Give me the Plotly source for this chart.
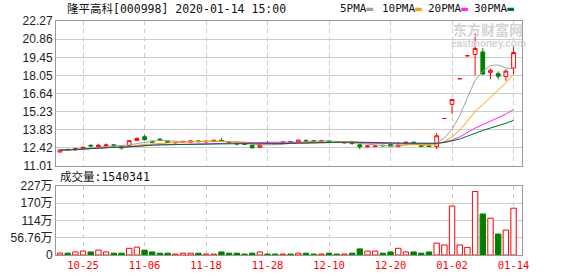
import plotly.graph_objects as go
from plotly.subplots import make_subplots
import pandas as pd

# ---------------- data ----------------
dates = [
    "2019-10-22", "2019-10-23", "2019-10-24", "2019-10-25", "2019-10-28", "2019-10-29", "2019-10-30", "2019-10-31",
    "2019-11-01", "2019-11-04", "2019-11-05", "2019-11-06", "2019-11-07", "2019-11-08", "2019-11-11", "2019-11-12",
    "2019-11-13", "2019-11-14", "2019-11-15", "2019-11-18", "2019-11-19", "2019-11-20", "2019-11-21", "2019-11-22",
    "2019-11-25", "2019-11-26", "2019-11-27", "2019-11-28", "2019-11-29", "2019-12-02", "2019-12-03", "2019-12-04",
    "2019-12-05", "2019-12-06", "2019-12-09", "2019-12-10", "2019-12-11", "2019-12-12", "2019-12-13", "2019-12-16",
    "2019-12-17", "2019-12-18", "2019-12-19", "2019-12-20", "2019-12-23", "2019-12-24", "2019-12-25", "2019-12-26",
    "2019-12-27", "2019-12-30", "2019-12-31", "2020-01-02", "2020-01-03", "2020-01-06", "2020-01-07", "2020-01-08",
    "2020-01-09", "2020-01-10", "2020-01-13", "2020-01-14",
]
open_ = [12.10, 12.30, 12.26, 12.36, 12.62, 12.52, 12.58, 12.66, 12.56, 12.60,
         12.98, 13.28, 12.94, 13.10, 12.92, 12.80, 12.86, 12.86, 12.96, 12.88,
         12.92, 13.00, 12.90, 12.78, 12.74, 12.62, 12.46, 12.82, 12.78, 12.76,
         12.90, 12.86, 13.00, 12.98, 12.94, 12.96, 12.88, 12.80, 12.84, 12.66,
         12.50, 12.52, 12.62, 12.70, 12.52, 12.80, 12.86, 12.62, 12.60, 12.52,
         14.70, 15.80, 17.79, 19.57, 19.67, 19.87, 18.28, 18.18, 17.95, 18.62]
high = [12.28, 12.36, 12.42, 12.52, 12.68, 12.74, 12.76, 12.70, 12.60, 13.02,
        13.24, 13.42, 12.98, 13.16, 12.94, 12.86, 12.96, 13.02, 13.04, 13.02,
        13.05, 13.18, 12.92, 12.82, 12.78, 12.66, 12.76, 12.98, 12.80, 12.90,
        12.95, 13.06, 13.06, 13.02, 13.04, 12.98, 12.92, 12.90, 12.86, 12.68,
        12.60, 12.62, 12.66, 12.74, 12.88, 12.88, 12.88, 12.64, 12.62, 13.57,
        14.70, 16.17, 17.79, 19.57, 21.31, 20.18, 18.57, 18.36, 18.52, 20.34]
low = [12.05, 12.20, 12.22, 12.32, 12.50, 12.48, 12.54, 12.50, 12.30, 12.55,
       12.95, 13.00, 12.80, 12.95, 12.80, 12.76, 12.84, 12.84, 12.86, 12.85,
       12.90, 12.88, 12.78, 12.62, 12.66, 12.38, 12.42, 12.76, 12.68, 12.74,
       12.80, 12.84, 12.85, 12.86, 12.90, 12.84, 12.80, 12.78, 12.70, 12.32,
       12.45, 12.48, 12.52, 12.50, 12.48, 12.76, 12.80, 12.50, 12.50, 12.32,
       14.70, 15.05, 17.79, 19.57, 18.05, 18.10, 17.73, 17.73, 17.62, 18.10]
close = [12.25, 12.24, 12.36, 12.46, 12.56, 12.62, 12.64, 12.58, 12.40, 12.98,
         13.15, 13.05, 12.86, 13.00, 12.84, 12.84, 12.92, 12.95, 12.90, 12.92,
         13.00, 12.96, 12.82, 12.72, 12.70, 12.42, 12.62, 12.80, 12.72, 12.88,
         12.84, 13.02, 12.96, 12.94, 12.98, 12.88, 12.84, 12.84, 12.74, 12.50,
         12.56, 12.56, 12.58, 12.55, 12.62, 12.85, 12.82, 12.54, 12.52, 13.36,
         14.70, 16.17, 17.79, 19.57, 20.14, 18.15, 18.44, 17.98, 18.38, 19.82]
volume = [65000, 60000, 100000, 130000, 100000, 160000, 100000, 60000, 60000, 220000,
          260000, 160000, 100000, 60000, 60000, 30000, 60000, 60000, 60000, 30000,
          30000, 100000, 60000, 60000, 30000, 60000, 100000, 30000, 30000, 30000,
          30000, 60000, 60000, 30000, 30000, 60000, 30000, 30000, 60000, 200000,
          130000, 130000, 60000, 100000, 220000, 100000, 100000, 60000, 100000, 390000,
          330000, 1610000, 330000, 250000, 2090000, 1350000, 1210000, 690000, 820000, 1540341]

tick_dates = ["2019-10-25", "2019-11-06", "2019-11-18", "2019-11-28",
              "2019-12-10", "2019-12-20", "2020-01-02", "2020-01-14"]
tick_labels = ["10-25", "11-06", "11-18", "11-28", "12-10", "12-20", "01-02", "01-14"]
price_ticks = [11.01, 12.42, 13.83, 15.23, 16.64, 18.05, 19.45, 20.86, 22.27]
vol_ticks = [0, 567600, 1135200, 1702800, 2270400]
vol_tick_labels = ["0", "56.76万", "114万", "170万", "227万"]
ma_periods = [5, 10, 20, 30]
ma_names = ["5PMA", "10PMA", "20PMA", "30PMA"]
ma_colors = ["#a0a0a0", "#f5a300", "#ff22ff", "#006b32"]

title_text = "隆平高科[000998] 2020-01-14 15:00"
vol_title = "成交量:1540341"

RED = "#ff0000"
GREEN = "#008000"

# ---------------- layout helpers ----------------
W, H = 578, 276
ML, MR, MT, MB = 56, 56, 21, 21
PW, PH = W - ML - MR, H - MT - MB


def px(x):
    return (x - ML) / PW


def py(y):
    return (H - MB - y) / PH


df = pd.DataFrame({"date": dates, "open": open_, "high": high, "low": low,
                   "close": close, "volume": volume})
prev_close = df["close"].shift(1)
up = (df["close"] > df["open"]) | ((df["close"] == df["open"]) & (df["close"] >= prev_close.fillna(df["close"])))

fig = make_subplots(rows=2, cols=1, shared_xaxes=True)

fig.add_trace(go.Candlestick(
    x=df["date"], open=df["open"], high=df["high"], low=df["low"], close=df["close"],
    increasing=dict(line=dict(color=RED, width=1), fillcolor="#ffffff"),
    decreasing=dict(line=dict(color=GREEN, width=1), fillcolor=GREEN),
    whiskerwidth=0, showlegend=False, hoverinfo="skip",
), row=1, col=1)

for p, name, color in zip(ma_periods, ma_names, ma_colors):
    ma = df["close"].rolling(p, min_periods=1).mean()
    fig.add_trace(go.Scatter(x=df["date"], y=ma, mode="lines", name=name,
                             line=dict(color=color, width=1), showlegend=False,
                             hoverinfo="skip"), row=1, col=1)

fig.add_trace(go.Bar(
    x=df["date"], y=df["volume"],
    marker=dict(color=["#ffffff" if u else GREEN for u in up],
                line=dict(color=[RED if u else GREEN for u in up], width=1)),
    showlegend=False, hoverinfo="skip",
), row=2, col=1)

axis_common = dict(showline=True, mirror=True, linecolor="#999999", linewidth=1,
                   zeroline=False, ticks="", automargin=False)
xcommon = dict(axis_common, type="category", categoryorder="array", categoryarray=dates,
               range=[-0.52, 60.1], tickvals=tick_dates, ticktext=tick_labels,
               showgrid=True, gridcolor="#cccccc", griddash="4px,4px", gridwidth=1)

fig.update_layout(
    width=W, height=H,
    margin=dict(l=ML, r=MR, t=MT, b=MB, pad=0, autoexpand=False),
    paper_bgcolor="#ffffff", plot_bgcolor="#ffffff",
    showlegend=False, bargap=0.3, boxgap=0.3,
    font=dict(family="Liberation Sans, Noto Sans CJK SC", size=12, color="#222222"),
    xaxis=dict(xcommon, showticklabels=False, rangeslider=dict(visible=False)),
    xaxis2=dict(xcommon, showticklabels=True,
                tickfont=dict(family="DejaVu Sans Mono, Noto Sans CJK SC", size=10.5, color=RED)),
    yaxis=dict(axis_common, domain=[py(166), 1.0], range=[11.01, 22.27],
               tickvals=price_ticks, ticktext=[f"{v:.2f}" for v in price_ticks],
               showgrid=True, gridcolor="#cccccc", gridwidth=1,
               tickfont=dict(size=12, color="#222222")),
    yaxis2=dict(axis_common, domain=[0.0, py(186)], range=[0, 2270400],
                tickvals=vol_ticks, ticktext=vol_tick_labels,
                showgrid=True, gridcolor="#cccccc", gridwidth=1,
                tickfont=dict(size=12, color="#222222")),
)

mono = "DejaVu Sans Mono, Noto Sans CJK SC"
annotations = [
    dict(text=title_text, x=px(65), y=py(9), xref="paper", yref="paper",
         xanchor="left", yanchor="middle", showarrow=False,
         font=dict(family=mono, size=11.5, color="#111111")),
    dict(text=vol_title, x=px(58), y=py(177), xref="paper", yref="paper",
         xanchor="left", yanchor="middle", showarrow=False,
         font=dict(family=mono, size=11.5, color="#111111")),
    dict(text="东方财富网", x=px(488), y=py(29), xref="paper", yref="paper",
         xanchor="center", yanchor="middle", showarrow=False,
         font=dict(family="Noto Sans CJK SC", size=14, color="#d4d4d4", weight="bold")),
    dict(text="eastmoney.com", x=px(488), y=py(43.5), xref="paper", yref="paper",
         xanchor="center", yanchor="middle", showarrow=False,
         font=dict(family="Liberation Sans", size=10, color="#d4d4d4", weight="bold")),
]
legend_x = [338, 380, 426, 472]
for lx, name, color in zip(legend_x, ma_names, ma_colors):
    annotations.append(dict(
        text=f"{name}<span style='color:{color}'>▬</span>", x=px(lx), y=py(9),
        xref="paper", yref="paper", xanchor="left", yanchor="middle", showarrow=False,
        font=dict(family=mono, size=11, color="#111111")))
fig.update_layout(annotations=annotations)

fig.write_html("out.html")
